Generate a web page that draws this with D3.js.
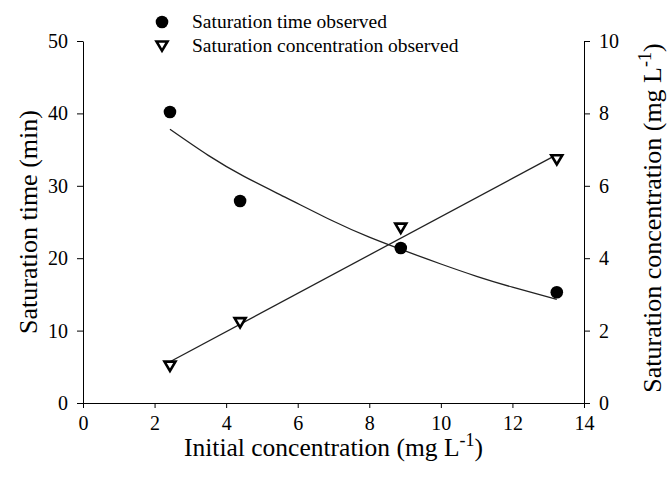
<!DOCTYPE html>
<html lang="en">
<head>
  <meta charset="UTF-8">
  <title>Saturation time and concentration</title>
  <script src="https://d3js.org/d3.v7.min.js"></script>
  <style>
    body {
      margin: 0;
      background-color: white;
    }
    svg text {
      font-family: "Liberation Serif", "Times New Roman", serif;
      fill: black;
    }
    .axis path, .axis line {
      stroke: black;
      stroke-width: 1;
    }
    .axis text {
      font-size: 20px;
      font-family: "Liberation Serif", "Times New Roman", serif;
    }
  </style>
</head>
<body>
  <svg width="670" height="478"></svg>
  <script>
    // observed points
    const initialConc = [2.43, 4.39, 8.88, 13.24];
    const satTime = [40.2, 27.9, 21.4, 15.3];
    const satConc = [1.02, 2.22, 4.83, 6.72];

    // fitted curves
    const timeFitX = [2.43, 3.5, 4.5, 5.7, 7, 8, 9, 10, 11, 12, 13.24];
    const timeFitY = [37.8, 34.2, 31.3, 28.3, 25.1, 22.9, 21.0, 19.2, 17.5, 16.0, 14.3];
    const concFitX = [2.43, 13.24];
    const concFitY = [1.14, 6.86];

    const xTicks = [0, 2, 4, 6, 8, 10, 12, 14];
    const leftTicks = [0, 10, 20, 30, 40, 50];
    const rightTicks = [0, 2, 4, 6, 8, 10];

    const svg = d3.select("svg");
    const pLeft = 83, pRight = 584, pTop = 41, pBottom = 403;

    const x = d3.scaleLinear().domain([0, 14]).range([pLeft, pRight]);
    const yL = d3.scaleLinear().domain([0, 50]).range([pBottom, pTop]);
    const yR = d3.scaleLinear().domain([0, 10]).range([pBottom, pTop]);

    svg.append("g")
      .attr("class", "axis")
      .attr("transform", `translate(0,${pBottom})`)
      .call(d3.axisBottom(x).tickValues(xTicks).tickSize(5).tickSizeOuter(0).tickPadding(8));

    svg.append("g")
      .attr("class", "axis")
      .attr("transform", `translate(${pLeft},0)`)
      .call(d3.axisLeft(yL).tickValues(leftTicks).tickSize(6).tickSizeOuter(0).tickPadding(9));

    svg.append("g")
      .attr("class", "axis")
      .attr("transform", `translate(${pRight},0)`)
      .call(d3.axisRight(yR).tickValues(rightTicks).tickSize(6).tickSizeOuter(0).tickPadding(9));

    // fit lines
    const timeLine = d3.line()
      .x(d => x(d[0])).y(d => yL(d[1]))
      .curve(d3.curveNatural);
    svg.append("path")
      .datum(d3.zip(timeFitX, timeFitY))
      .attr("d", timeLine)
      .attr("fill", "none")
      .attr("stroke", "#222")
      .attr("stroke-width", 1.3);

    const concLine = d3.line().x(d => x(d[0])).y(d => yR(d[1]));
    svg.append("path")
      .datum(d3.zip(concFitX, concFitY))
      .attr("d", concLine)
      .attr("fill", "none")
      .attr("stroke", "#222")
      .attr("stroke-width", 1.3);

    // markers
    const tri = "M-5.5,-4.5L5.5,-4.5L0,4.8Z";

    svg.selectAll(".pt-time")
      .data(d3.zip(initialConc, satTime))
      .enter()
      .append("circle")
      .attr("class", "pt-time")
      .attr("cx", d => x(d[0]))
      .attr("cy", d => yL(d[1]))
      .attr("r", 6.3)
      .attr("fill", "black");

    svg.selectAll(".pt-conc")
      .data(d3.zip(initialConc, satConc))
      .enter()
      .append("path")
      .attr("class", "pt-conc")
      .attr("d", tri)
      .attr("transform", d => `translate(${x(d[0])},${yR(d[1])})`)
      .attr("fill", "white")
      .attr("stroke", "black")
      .attr("stroke-width", 2.6);

    // legend
    const legend = svg.append("g");
    legend.append("circle").attr("cx", 162).attr("cy", 22).attr("r", 6.3).attr("fill", "black");
    legend.append("text").attr("x", 192).attr("y", 28).attr("font-size", 19.5)
      .text("Saturation time observed");
    legend.append("path").attr("d", tri)
      .attr("transform", "translate(162,46)")
      .attr("fill", "white").attr("stroke", "black").attr("stroke-width", 2.6);
    legend.append("text").attr("x", 192).attr("y", 52).attr("font-size", 19.5)
      .text("Saturation concentration observed");

    // axis titles
    const xt = svg.append("text")
      .attr("x", (pLeft + pRight) / 2)
      .attr("y", 456)
      .attr("text-anchor", "middle")
      .attr("font-size", 25.5);
    xt.append("tspan").text("Initial concentration (mg L");
    xt.append("tspan").attr("dy", -10).attr("font-size", 18).text("-1");
    xt.append("tspan").attr("dy", 10).text(")");

    svg.append("text")
      .attr("transform", `translate(37,${(pTop + pBottom) / 2}) rotate(-90)`)
      .attr("text-anchor", "middle")
      .attr("font-size", 26)
      .text("Saturation time (min)");

    const yt = svg.append("text")
      .attr("transform", `translate(661,${(pTop + pBottom) / 2 - 4}) rotate(-90)`)
      .attr("text-anchor", "middle")
      .attr("font-size", 26);
    yt.append("tspan").text("Saturation concentration (mg L");
    yt.append("tspan").attr("dy", -10).attr("font-size", 18).text("-1");
    yt.append("tspan").attr("dy", 10).text(")");
  </script>
</body>
</html>
